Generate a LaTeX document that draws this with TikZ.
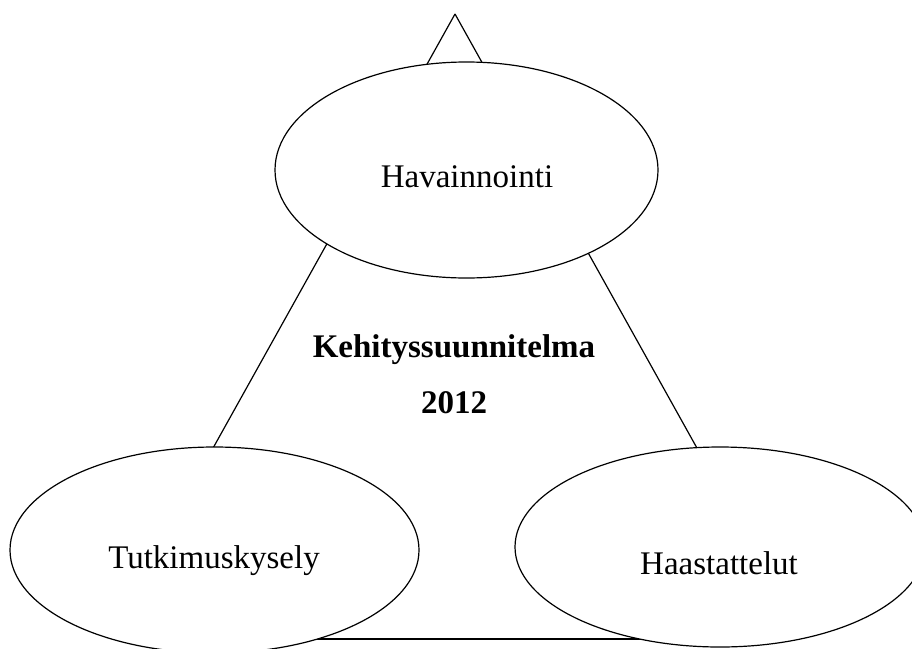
\documentclass[tikz,border=0pt]{standalone}
\usepackage{fontspec}
\setmainfont{Liberation Serif}
\usetikzlibrary{shapes.geometric}
\tikzset{
  oval/.style={ellipse, draw=black, fill=white, line width=1.2pt, inner sep=0pt},
  lbl/.style={anchor=base, inner sep=0pt, font=\fontsize{33}{40}\selectfont},
  blbl/.style={anchor=base, inner sep=0pt, font=\fontsize{33}{40}\selectfont\bfseries},
  edge/.style={draw=black, line width=1.2pt}
}
\begin{document}
\begin{tikzpicture}[x=1pt, y=-1pt]
\useasboundingbox (0,0) rectangle (912,648);
\fill[white] (0,0) rectangle (912,648);
% triangle sides, behind the ellipses
\coordinate (apex) at (455,14);
\coordinate (lend) at (193,484);
\coordinate (rend) at (717,484);
\coordinate (bl) at (280,639);
\coordinate (br) at (700,639);
\draw[edge] (apex) -- (lend);
\draw[edge] (apex) -- (rend);
\draw[edge] (bl) -- (br);
% ellipses
\node[oval, minimum width=383pt, minimum height=216pt] (hav) at (466.5,170) {};
\node[oval, minimum width=409pt, minimum height=206pt] (tut) at (214.5,550) {};
\node[oval, minimum width=410pt, minimum height=200pt] (haa) at (720,547) {};
% labels
\node[lbl] (havt) at (467,187) {Havainnointi};
\node[lbl] (tutt) at (214,568) {Tutkimuskysely};
\node[lbl] (haat) at (719,574) {Haastattelut};
\node[blbl] (keh) at (454,357) {Kehityssuunnitelma};
\node[blbl] (yr) at (454,413) {2012};
\end{tikzpicture}
\end{document}
